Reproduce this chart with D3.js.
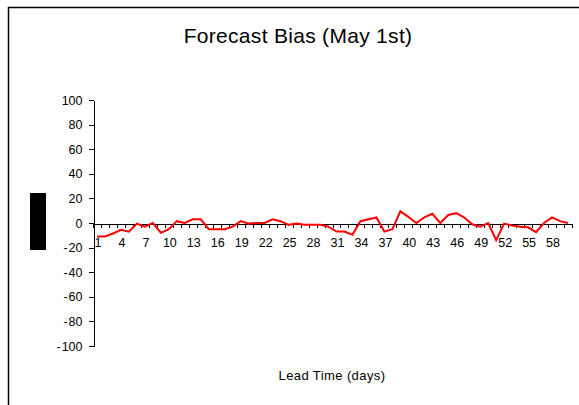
<!DOCTYPE html>
<html>
<head>
<meta charset="utf-8">
<style>
body { margin: 0; background: #fff; }
svg { display: block; font-family: "Liberation Sans", Arial, sans-serif; }
.axis path, .axis line { stroke: #000; stroke-width: 1; shape-rendering: crispEdges; }
.axis text { fill: #000; font-size: 12.5px; }
</style>
</head>
<body>
<svg width="579" height="405"></svg>
<script src="https://cdn.jsdelivr.net/npm/d3@7"></script>
<script>

// lead time in days
var leadDays = [1,2,3,4,5,6,7,8,9,10,11,12,13,14,15,16,17,18,19,20,
                21,22,23,24,25,26,27,28,29,30,31,32,33,34,35,36,37,38,39,40,
                41,42,43,44,45,46,47,48,49,50,51,52,53,54,55,56,57,58,59,60];

// forecast bias per lead time
var bias = [-11,-11,-8.5,-5.5,-7,-0.5,-3,0,-8,-5,
            1.5,0,3,3,-5,-5,-5,-3,1.5,-0.5,
            0,0,3,1.5,-1.5,-0.5,-1.5,-1.5,-1.5,-3,
            -7,-7,-9.5,1.5,3,4.5,-7,-5,9.5,5,
            0,4.5,7.5,0,6.5,8,4.5,-1,-3,0,
            -14,-0.5,-2,-3,-3.5,-7.5,0,4.5,1.5,0];

var yTicks = [100,80,60,40,20,0,-20,-40,-60,-80,-100];
var xLabels = [1,4,7,10,13,16,19,22,25,28,31,34,37,40,43,46,49,52,55,58];

var svg = d3.select("svg");

// outer frame (clipped at right and bottom)
svg.append("path")
    .attr("d", "M8.5,405V7.5H579")
    .attr("fill", "none")
    .attr("stroke", "#000")
    .attr("stroke-width", 1.5);

svg.append("text")
    .attr("x", 298)
    .attr("y", 43)
    .attr("text-anchor", "middle")
    .style("font-size", "21px")
    .style("letter-spacing", "0.3px")
    .text("Forecast Bias (May 1st)");

var x = d3.scaleBand().domain(leadDays).range([93, 572]);
var xb = d3.scaleLinear().domain([0, leadDays.length]).range([93, 572]);
var y = d3.scaleLinear().domain([-100, 100]).range([346, 100]);

// y axis
svg.append("g")
    .attr("class", "axis")
    .attr("transform", "translate(93.5,0)")
    .call(d3.axisLeft(y).tickValues(yTicks).tickSize(5).tickSizeOuter(0).tickPadding(6)
        .tickFormat(function(d) { return d < 0 ? "-\u200a" + (-d) : d; }));

// x axis line and boundary ticks
svg.append("g")
    .attr("class", "axis")
    .attr("transform", "translate(0," + (y(0) + 0.5) + ")")
    .call(d3.axisBottom(xb).tickValues(d3.range(0, leadDays.length + 1)).tickSize(4).tickSizeOuter(0).tickFormat(""));

// x labels
svg.append("g")
    .attr("class", "axis")
    .attr("transform", "translate(1," + (y(0) + 0.5) + ")")
    .call(d3.axisBottom(x).tickValues(xLabels).tickSize(0).tickPadding(15))
    .select(".domain").remove();

svg.append("text")
    .attr("x", 332)
    .attr("y", 380)
    .attr("text-anchor", "middle")
    .style("font-size", "13px")
    .style("letter-spacing", "0.4px")
    .text("Lead Time (days)");

// legend key
svg.append("rect")
    .attr("x", 30)
    .attr("y", 193)
    .attr("width", 16)
    .attr("height", 57)
    .attr("fill", "#000");

var line = d3.line()
    .x(function(d, i) { return x(leadDays[i]) + x.bandwidth() / 2; })
    .y(function(d) { return y(d); });

svg.append("path")
    .datum(bias)
    .attr("d", line)
    .attr("fill", "none")
    .attr("stroke", "#ff0000")
    .attr("stroke-width", 2);

</script>
</body>
</html>
